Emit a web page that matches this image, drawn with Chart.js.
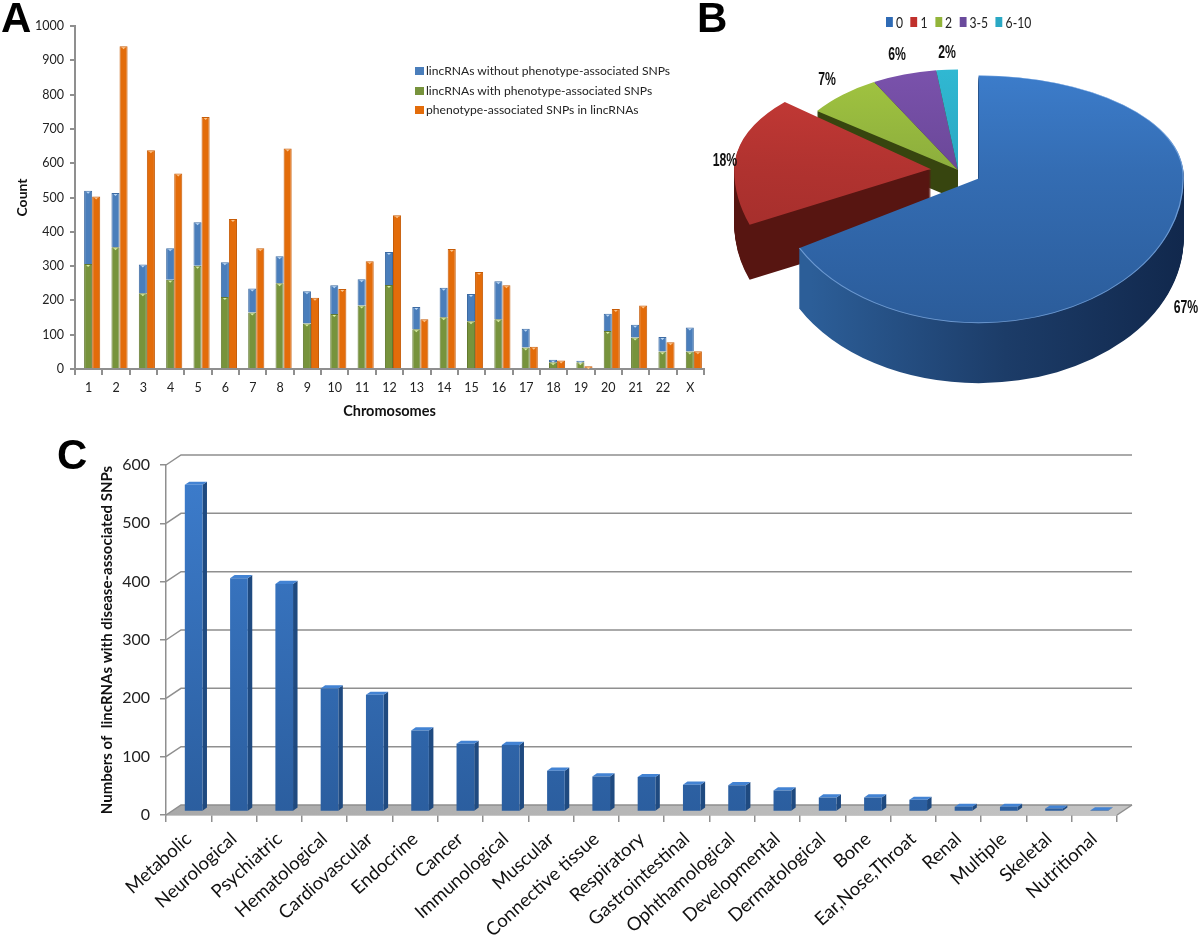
<!DOCTYPE html>
<html lang="en">

<head>
    <title>lincRNA SNP charts</title>
    <meta charset="utf-8">
    <script src="https://cdn.jsdelivr.net/npm/chart.js"></script>
    <style>
        html, body { margin: 0; padding: 0; background: #fff; }
        #page { position: relative; width: 1200px; height: 937px; overflow: hidden; font-family: Lato, sans-serif; }
        canvas { position: absolute; }
        .letter { position: absolute; font: bold 42px/42px "Liberation Sans", sans-serif; color: #000; }
        .legendRow { position: absolute; white-space: nowrap; color: #222; }
        .swatch { display: inline-block; }
    </style>
</head>

<body>
    <div id="page">
        <canvas id="chartA" width="720" height="430" style="left:0;top:0"></canvas>
        <canvas id="chartB" width="500" height="400" style="left:700px;top:0"></canvas>
        <canvas id="chartC" width="1200" height="507" style="left:0;top:430px"></canvas>
        <div class="letter" style="left:1px;top:-3px">A</div>
        <div class="letter" style="left:697px;top:-3px">B</div>
        <div class="letter" style="left:57px;top:434px">C</div>
        <div id="legendA"></div>
        <div id="legendB"></div>
    </div>

    <script>
        // panel A
        const chromosomes = ['1', '2', '3', '4', '5', '6', '7', '8', '9', '10', '11', '12', '13', '14', '15', '16', '17', '18', '19', '20', '21', '22', 'X'];
        const withSnps = [306, 355, 221, 260, 301, 210, 165, 250, 133, 160, 185, 245, 116, 151, 139, 145, 63, 20, 20, 111, 92, 51, 51];
        const withoutSnps = [214, 158, 84, 92, 127, 101, 70, 79, 94, 84, 77, 96, 65, 86, 80, 111, 54, 7, 4, 50, 37, 42, 70];
        const snpsInLincrnas = [503, 941, 638, 570, 735, 437, 352, 643, 208, 233, 314, 448, 145, 350, 283, 244, 65, 25, 8, 175, 185, 78, 52];
        const countTicks = [0, 100, 200, 300, 400, 500, 600, 700, 800, 900, 1000];

        // panel B
        const pieCategories = ['0', '1', '2', '3-5', '6-10'];
        const piePercents = [67, 18, 7, 6, 2];

        // panel C
        const diseases = ['Metabolic', 'Neurological', 'Psychiatric', 'Hematological', 'Cardiovascular', 'Endocrine', 'Cancer', 'Immunological', 'Muscular', 'Connective tissue', 'Respiratory', 'Gastrointestinal', 'Ophthamological', 'Developmental', 'Dermatological', 'Bone', 'Ear,Nose,Throat', 'Renal', 'Multiple', 'Skeletal', 'Nutritional'];
        const diseaseCounts = [560, 400, 390, 211, 200, 139, 116, 114, 70, 60, 59, 46, 45, 36, 24, 24, 20, 8, 8, 5, 2];

        const axisGrey = '#8f8f8f';
        const colBlue = '#4a7ebb', colGreen = '#77933c', colOrange = '#e36c0a';

        // fixes the plot rectangle, the reference has its axes at exact places
        const fitWidth = (w) => (scale) => { scale.width = w; };
        const fitHeight = (h) => (scale) => { scale.height = h; };

        // ---------- A ----------
        const barTips = {
            id: 'barTips',
            beforeDatasetsDraw(chart) {
                chart.ctx.save();
                chart.ctx.translate(3.5, 0);   // the groups sit right of the tick labels in the reference
            },
            afterDatasetsDraw(chart) {
                const c = chart.ctx;
                chart.data.datasets.forEach((ds, i) => {
                    chart.getDatasetMeta(i).data.forEach((bar) => {
                        c.fillStyle = ds.tipColor;
                        c.beginPath();
                        c.moveTo(bar.x - 2, bar.y + 1);
                        c.lineTo(bar.x + 2, bar.y + 1);
                        c.lineTo(bar.x, bar.y + 3);
                        c.fill();
                    });
                });
                c.restore();
            }
        };

        new Chart(document.getElementById('chartA'), {
            type: 'bar',
            data: {
                labels: chromosomes,
                datasets: [
                    { label: 'lincRNAs with phenotype-associated SNPs', data: withSnps, stack: 'genes', backgroundColor: colGreen, borderColor: '#62792f', borderWidth: 1, tipColor: '#d8eea0' },
                    { label: 'lincRNAs without phenotype-associated SNPs', data: withoutSnps, stack: 'genes', backgroundColor: colBlue, borderColor: '#3c6aa2', borderWidth: 1, tipColor: '#bcd8f5' },
                    { label: 'phenotype-associated SNPs in lincRNAs', data: snpsInLincrnas, stack: 'snps', backgroundColor: colOrange, borderColor: '#c65c08', borderWidth: 1, tipColor: '#fbc48c' }
                ]
            },
            options: {
                responsive: false,
                animation: false,
                layout: { padding: { top: 26, right: 16 } },
                plugins: { legend: { display: false }, tooltip: { enabled: false } },
                datasets: { bar: { categoryPercentage: 0.59, barPercentage: 1 } },
                scales: {
                    x: {
                        stacked: true,
                        afterFit: fitHeight(61),
                        border: { color: axisGrey, width: 2 },
                        grid: { drawOnChartArea: false, color: axisGrey, lineWidth: 2, tickLength: 6 },
                        ticks: { color: '#222', font: { family: 'Lato', size: 12.5 }, padding: 5, maxRotation: 0, autoSkip: false },
                        title: { display: true, text: 'Chromosomes', color: '#111', font: { family: 'Lato', size: 14.5, weight: 'bold' }, padding: { top: 6, bottom: 10 } }
                    },
                    y: {
                        stacked: true,
                        min: 0,
                        max: 1000,
                        afterFit: fitWidth(75),
                        afterBuildTicks(scale) { scale.ticks = countTicks.map((v) => ({ value: v })); },
                        border: { color: axisGrey, width: 2 },
                        grid: { drawOnChartArea: false, color: axisGrey, lineWidth: 2, tickLength: 5 },
                        ticks: { color: '#222', font: { family: 'Lato', size: 12.5 }, padding: 6, callback: (v) => String(v) },
                        title: { display: true, text: 'Count', color: '#111', font: { family: 'Lato', size: 14, weight: 'bold' }, padding: { top: 14, bottom: 0 } }
                    }
                }
            },
            plugins: [barTips]
        });

        // legend order of the reference is not the stacking order
        const legendRows = [
            ['lincRNAs without phenotype-associated SNPs', colBlue],
            ['lincRNAs with phenotype-associated SNPs', colGreen],
            ['phenotype-associated SNPs in lincRNAs', colOrange]
        ];
        document.getElementById('legendA').innerHTML = legendRows.map((row, i) =>
            `<div class="legendRow" style="left:415px;top:${63 + i * 19.5}px;font-size:12.1px;line-height:16px">` +
            `<span class="swatch" style="width:9px;height:8px;margin-right:2px;background:${row[1]}"></span>${row[0]}</div>`).join('');

        // ---------- B ----------
        const pieCanvas = document.getElementById('chartB');
        const pieCtx = pieCanvas.getContext('2d');
        const pieCx = 258, pieCy = 170, pieRadius = 205;
        const squashUp = 0.49, squashDown = 0.705;
        const pieShift = [24, 27, 0, 0, 0];     // how far a slice is pulled out
        const pieTurn = [0, 6, 0, 0, 0];        // degrees, the perspective bends the red slice
        const pieNarrow = [1, 0.96, 0.85, 0.85, 0.85];  // the back slices look thinner
        const pieDepth = [60, 55, 30, 30, 30];
        const pieTops = [['#3c7cca', '#2b5c9a'], ['#c93b37', '#9b2b29'], ['#a2c540', '#76963a'], ['#7a52ac', '#5b3d84'], ['#30b8d2', '#2497b3']];
        const pieWalls = [['#2c5e98', '#1c3c68', '#10264a'], ['#a83030', '#571511', '#571511'], ['#37450f', '#37450f', '#37450f'], ['#37450f', '#37450f', '#37450f'], ['#37450f', '#37450f', '#37450f']];
        const pieLabelSpots = [[486, 308], [25, 161], [127, 80], [197, 55], [247, 53]];

        const vertical = (pair) => {
            const g = pieCtx.createLinearGradient(0, pieCy - pieRadius, 0, pieCy + pieRadius);
            g.addColorStop(0, pair[0]);
            g.addColorStop(1, pair[1]);
            return g;
        };

        // the far half of the disc is flatter than the near half, like the perspective in the picture
        function eachHalf(c, drop, paint) {
            [[0, pieCy + drop, squashUp], [pieCy + drop, 400, squashDown]].forEach(([from, to, squash]) => {
                c.save();
                c.beginPath();
                c.rect(0, from, 500, to - from);
                c.clip();
                c.translate(pieCx, pieCy + drop);
                c.scale(1, squash);
                c.translate(-pieCx, -pieCy);
                paint();
                c.restore();
            });
        }

        function place(c, arc, i) {
            const mid = (arc.startAngle + arc.endAngle) / 2;
            c.translate(Math.cos(mid) * pieShift[i], Math.sin(mid) * pieShift[i]);
            c.translate(arc.x, arc.y);
            c.scale(pieNarrow[i], 1);
            c.rotate(pieTurn[i] * Math.PI / 180);
            c.translate(-arc.x, -arc.y);
        }

        const tiltedPie = {
            id: 'tiltedPie',
            beforeDatasetDraw(chart) {
                const c = chart.ctx;
                const arcs = chart.getDatasetMeta(0).data;
                // side walls, back slices first
                [4, 3, 2, 1, 0].forEach((i) => {
                    const arc = arcs[i];
                    const wall = c.createLinearGradient(i === 1 ? 33 : 90, 0, i === 1 ? 47 : 480, 0);
                    wall.addColorStop(0, pieWalls[i][0]);
                    wall.addColorStop(0.5, pieWalls[i][1]);
                    wall.addColorStop(1, pieWalls[i][2]);
                    for (let d = pieDepth[i]; d >= 1; d--) {
                        eachHalf(c, d, () => {
                            c.fillStyle = wall;
                            place(c, arc, i);
                            c.beginPath();
                            c.moveTo(arc.x, arc.y);
                            c.arc(arc.x, arc.y, arc.outerRadius, arc.startAngle, arc.endAngle);
                            c.closePath();
                            c.fill();
                        });
                    }
                });
                arcs.forEach((arc, i) => {
                    eachHalf(c, 0, () => {
                        place(c, arc, i);
                        arc.draw(c);
                    });
                });
                // light rim on the near edge of the big slice
                eachHalf(c, 0, () => {
                    place(c, arcs[0], 0);
                    c.strokeStyle = 'rgba(150,190,240,0.6)';
                    c.lineWidth = 1.2;
                    c.beginPath();
                    c.arc(arcs[0].x, arcs[0].y, arcs[0].outerRadius - 0.5, arcs[0].startAngle, arcs[0].endAngle);
                    c.stroke();
                });
                return false;
            },
            afterDraw(chart) {
                const c = chart.ctx;
                c.fillStyle = '#111';
                c.font = 'bold 18px "Liberation Sans", sans-serif';
                c.textAlign = 'center';
                c.textBaseline = 'middle';
                piePercents.forEach((p, i) => {
                    c.save();
                    c.translate(pieLabelSpots[i][0], pieLabelSpots[i][1]);
                    c.scale(0.68, 1);     // condensed look of the original labels
                    c.fillText(p + '%', 0, 0);
                    c.restore();
                });
            }
        };

        new Chart(pieCanvas, {
            type: 'pie',
            data: {
                labels: pieCategories,
                datasets: [{
                    data: piePercents,
                    radius: pieRadius,
                    borderWidth: 0,
                    backgroundColor: pieTops.map(vertical)
                }]
            },
            options: {
                responsive: false,
                animation: false,
                layout: { padding: { left: 16, bottom: 60 } },
                plugins: { legend: { display: false }, tooltip: { enabled: false } }
            },
            plugins: [tiltedPie]
        });

        const pieSwatches = ['#2f6bb5', '#c0302c', '#93b53a', '#6a4a9c', '#2aa8c4'];
        document.getElementById('legendB').innerHTML =
            '<div class="legendRow" style="left:886px;top:13px;font-size:16px;line-height:18px;display:flex;align-items:center;transform-origin:left center;transform:scaleX(0.76)">' +
            pieCategories.map((name, i) =>
                `<span class="swatch" style="width:9px;height:10px;margin-right:4px;background:${pieSwatches[i]}"></span><span style="margin-right:10px">${name}</span>`).join('') +
            '</div>';

        // ---------- C ----------
        const depthX = 15, depthY = 10;      // wall and floor of the fake 3d box
        const barSideX = 4.5, barSideY = 3.2;
        const chartC = document.getElementById('chartC');
        const cCtx = chartC.getContext('2d');
        const frontFill = cCtx.createLinearGradient(0, 35, 0, 385);
        frontFill.addColorStop(0, '#3d7dcd');
        frontFill.addColorStop(1, '#2b5e9f');

        const box3d = {
            id: 'box3d',
            beforeDatasetsDraw(chart) {
                const c = chart.ctx;
                const { left, right, bottom } = chart.chartArea;
                const y = chart.scales.y;
                // floor
                const floor = c.createLinearGradient(left, 0, right, 0);
                floor.addColorStop(0, '#a9a9a9');
                floor.addColorStop(1, '#c4c4c4');
                c.fillStyle = floor;
                c.beginPath();
                c.moveTo(left, bottom);
                c.lineTo(left + depthX, bottom - depthY);
                c.lineTo(right + depthX, bottom - depthY);
                c.lineTo(right, bottom);
                c.fill();
                // back wall lines
                c.strokeStyle = axisGrey;
                c.lineWidth = 1.5;
                y.ticks.forEach((t) => {
                    const py = y.getPixelForValue(t.value);
                    c.beginPath();
                    c.moveTo(left, py);
                    c.lineTo(left + depthX, py - depthY);
                    c.lineTo(right + depthX, py - depthY);
                    c.stroke();
                });
                c.beginPath();
                c.moveTo(right, bottom);
                c.lineTo(right + depthX, bottom - depthY);
                c.stroke();
                // bars stand a little inside the box
                c.save();
                c.translate(5, -3.5);
                chart.getDatasetMeta(0).data.forEach((bar) => {
                    const r = bar.x + bar.width / 2, l = bar.x - bar.width / 2;
                    c.fillStyle = '#1f4a80';
                    c.beginPath();
                    c.moveTo(r, bar.y);
                    c.lineTo(r + barSideX, bar.y - barSideY);
                    c.lineTo(r + barSideX, bar.base - barSideY);
                    c.lineTo(r, bar.base);
                    c.fill();
                    c.fillStyle = '#4383d3';
                    c.beginPath();
                    c.moveTo(l, bar.y);
                    c.lineTo(l + barSideX, bar.y - barSideY);
                    c.lineTo(r + barSideX, bar.y - barSideY);
                    c.lineTo(r, bar.y);
                    c.fill();
                });
            },
            afterDatasetsDraw(chart) {
                chart.ctx.restore();
            }
        };

        new Chart(chartC, {
            type: 'bar',
            data: {
                labels: diseases,
                datasets: [{ data: diseaseCounts, backgroundColor: frontFill, barPercentage: 0.39, categoryPercentage: 1 }]
            },
            options: {
                responsive: false,
                animation: false,
                layout: { padding: { top: 35, right: 83 } },
                plugins: { legend: { display: false }, tooltip: { enabled: false } },
                scales: {
                    x: {
                        afterFit: fitHeight(122),
                        border: { color: axisGrey, width: 1.5 },
                        grid: { drawOnChartArea: false, color: axisGrey, lineWidth: 1.5, tickLength: 7 },
                        ticks: { color: '#111', font: { family: 'Lato', size: 18.5 }, padding: 6, minRotation: 42, maxRotation: 42, autoSkip: false }
                    },
                    y: {
                        min: 0,
                        max: 600,
                        afterFit: fitWidth(166),
                        border: { color: axisGrey, width: 1.5 },
                        grid: { drawOnChartArea: false, color: axisGrey, lineWidth: 1.5, tickLength: 6 },
                        ticks: { stepSize: 100, color: '#222', font: { family: 'Lato', size: 16 }, padding: 10 },
                        title: { display: true, text: 'Numbers of  lincRNAs with disease-associated SNPs', color: '#111', font: { family: 'Lato', size: 15, weight: 'bold' }, padding: { top: 98, bottom: 0 } }
                    }
                }
            },
            plugins: [box3d]
        });
    </script>
</body>

</html>
